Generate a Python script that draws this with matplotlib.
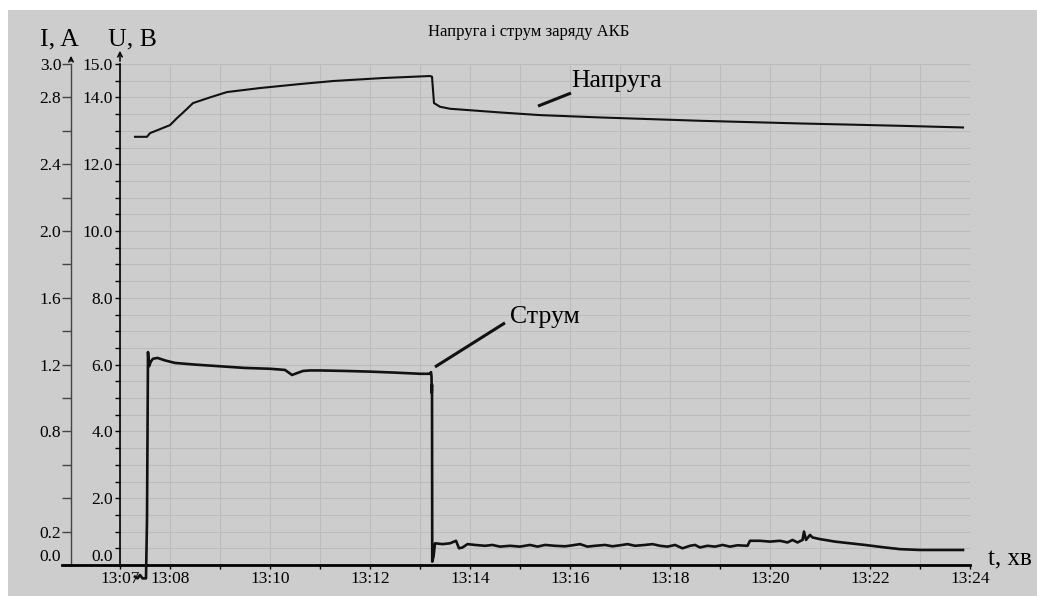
import numpy as np
import matplotlib
matplotlib.use('Agg')
import matplotlib.pyplot as plt
from matplotlib.lines import Line2D
from matplotlib.patches import Rectangle

# ---------------- data (time in minutes after 13:00) ----------------
u_time = [7.30, 7.54, 7.60, 7.80, 8.00, 8.14, 8.30, 8.46, 8.80, 9.14, 9.80,
          10.60, 11.26, 12.26, 13.20, 13.24, 13.28, 13.40, 13.60, 14.60,
          15.40, 16.60, 18.60, 20.60, 22.60, 23.86]
u_volt = [12.82, 12.82, 12.93, 13.05, 13.17, 13.38, 13.60, 13.83, 14.00, 14.16,
          14.28, 14.40, 14.49, 14.58, 14.64, 14.62, 13.83, 13.72, 13.66, 13.55,
          13.47, 13.40, 13.30, 13.22, 13.15, 13.10]

i_time = [7.30, 7.35, 7.40, 7.45, 7.52, 7.54, 7.56, 7.58, 7.62, 7.66, 7.75,
          7.90, 8.10, 8.50, 9.00, 9.50, 10.00, 10.30, 10.44, 10.55, 10.66,
          10.80, 11.00, 11.50, 12.00, 12.50, 13.00, 13.20, 13.22, 13.23,
          13.235, 13.24, 13.245, 13.27, 13.30, 13.45, 13.60, 13.72, 13.78,
          13.85, 13.95, 14.10, 14.30, 14.45, 14.60, 14.80, 15.00, 15.20,
          15.35, 15.50, 15.70, 15.90, 16.05, 16.20, 16.35, 16.50, 16.70,
          16.85, 17.00, 17.15, 17.30, 17.50, 17.65, 17.80, 17.95, 18.10,
          18.25, 18.40, 18.50, 18.60, 18.75, 18.90, 19.05, 19.20, 19.35,
          19.55, 19.60, 19.80, 20.00, 20.20, 20.35, 20.45, 20.55, 20.65,
          20.68, 20.72, 20.80, 20.85, 21.00, 21.30, 21.60, 21.90, 22.30,
          22.60, 23.00, 23.50, 23.86]
i_amp = [-0.07, -0.08, -0.06, -0.08, -0.08, 0.27, 1.275, 1.19, 1.22, 1.235,
         1.24, 1.225, 1.21, 1.20, 1.19, 1.18, 1.175, 1.168, 1.138, 1.15, 1.162,
         1.165, 1.165, 1.162, 1.158, 1.152, 1.145, 1.145, 1.155, 1.13,
         1.03, 1.08, 0.02, 0.05, 0.13, 0.125, 0.13, 0.145, 0.10,
         0.105, 0.125, 0.12, 0.115, 0.12, 0.11, 0.115, 0.11, 0.12,
         0.11, 0.12, 0.115, 0.112, 0.118, 0.125, 0.11, 0.115, 0.12,
         0.112, 0.118, 0.125, 0.115, 0.12, 0.125, 0.115, 0.11, 0.12,
         0.10, 0.115, 0.12, 0.105, 0.115, 0.11, 0.12, 0.11, 0.118,
         0.115, 0.145, 0.145, 0.14, 0.145, 0.135, 0.15, 0.135, 0.15,
         0.20, 0.15, 0.18, 0.165, 0.155, 0.14, 0.13, 0.12, 0.105,
         0.095, 0.09, 0.09, 0.09]

x_ticks = list(range(7, 25))
x_tick_labels = ['13:07', '13:08', '', '13:10', '', '13:12', '', '13:14', '',
                 '13:16', '', '13:18', '', '13:20', '', '13:22', '', '13:24']
u_ticks = list(np.arange(0, 15.01, 0.5))
u_labeled = {0: '0.0', 2: '2.0', 4: '4.0', 6: '6.0', 8: '8.0', 10: '10.0',
             12: '12.0', 14: '14.0', 15: '15.0'}
i_ticks = [round(v, 1) for v in np.arange(0, 3.01, 0.2)]
i_labeled = {0.0: '0.0', 0.2: '0.2', 0.8: '0.8', 1.2: '1.2', 1.6: '1.6',
             2.0: '2.0', 2.4: '2.4', 2.8: '2.8', 3.0: '3.0'}

title = 'Напруга і струм заряду АКБ'

# ---------------- figure ----------------
plt.rcParams['font.family'] = ['Liberation Serif', 'DejaVu Serif']
W, H, DPI = 1037, 596, 100
fig = plt.figure(figsize=(W / DPI, H / DPI), dpi=DPI, facecolor='white')
bg = '#cdcdcd'
fig.patches.append(Rectangle((8 / W, 0), 1 - 8 / W, (H - 10) / H,
                             transform=fig.transFigure, facecolor=bg,
                             edgecolor='none', zorder=-10))

L, R, T, B = 120, 970, 64, 565
rect = [L / W, (H - B) / H, (R - L) / W, (B - T) / H]

TICKFS = 12.5
ax = fig.add_axes(rect)
ax.set_facecolor('none')
ax.set_xlim(7, 24)
ax.set_ylim(0, 15)
ax.set_xticks(x_ticks)
ax.set_xticklabels(x_tick_labels, fontsize=TICKFS)
ax.set_yticks(u_ticks)
ax.set_yticklabels([u_labeled.get(v, '') for v in u_ticks], fontsize=TICKFS)
ax.grid(True, color='#bcbcbc', lw=0.8)
ax.set_axisbelow(True)
for s in ('top', 'right'):
    ax.spines[s].set_visible(False)
ax.spines['left'].set_color('black')
ax.spines['left'].set_linewidth(1.2)
ax.spines['bottom'].set_color('black')
ax.spines['bottom'].set_linewidth(2.0)
ax.tick_params(axis='y', length=3.5, width=1.0, pad=1.5, direction='out')
ax.tick_params(axis='x', length=3.0, width=1.0, pad=1.0, direction='out')
for lab in ax.get_yticklabels():
    if lab.get_text() == '0.0':
        lab.set_va('bottom')

ax.plot(u_time, u_volt, color='#111111', lw=1.5, zorder=5)

# current axis
axi = fig.add_axes(rect)
axi.set_facecolor('none')
axi.set_xlim(7, 24)
axi.set_ylim(0, 3)
for s in ('top', 'right', 'bottom'):
    axi.spines[s].set_visible(False)
axi.spines['left'].set_position(('axes', -49 / 850))
axi.spines['left'].set_color('#444444')
axi.spines['left'].set_linewidth(1.0)
axi.set_xticks([])
axi.set_yticks(i_ticks)
axi.set_yticklabels([i_labeled.get(v, '') for v in i_ticks], fontsize=TICKFS)
axi.tick_params(axis='y', length=6.5, width=1.0, pad=0.5, color='#444444')
for lab in axi.get_yticklabels():
    if lab.get_text() == '0.0':
        lab.set_va('bottom')
axi.plot(i_time, i_amp, color='#111111', lw=1.9, clip_on=False, zorder=5)

# arrows at top of the axes
for xpx, ytop in ((120, 48), (71, 53)):
    fig.add_artist(matplotlib.patches.FancyArrowPatch(
        (xpx / W, (H - 64) / H), (xpx / W, (H - ytop) / H),
        transform=fig.transFigure, arrowstyle='->', mutation_scale=8,
        lw=1.1, color='black'))
# bottom line extension
fig.add_artist(Line2D([62 / W, 120 / W], [(H - B) / H] * 2,
                      transform=fig.transFigure, color='black', lw=2.0))

# labels
fig.text(40 / W, (H - 45) / H, 'I, A', fontsize=18.5, ha='left', va='baseline')
fig.text(108 / W, (H - 45) / H, 'U, B', fontsize=18.5, ha='left', va='baseline')
fig.text(988 / W, (H - 565) / H, 't, хв', fontsize=18, ha='left', va='baseline')
fig.text(529 / W, (H - 36) / H, title, fontsize=12, ha='center', va='baseline')

# annotations
ax.plot([15.36, 16.02], [13.74, 14.13], color='#111111', lw=2.2, solid_capstyle='butt')
ax.text(16.02, 14.31, 'Напруга', fontsize=18.5, ha='left', va='baseline')
ax.plot([13.30, 14.70], [5.93, 7.25], color='#111111', lw=2.2, solid_capstyle='butt')
ax.text(14.80, 7.25, 'Струм', fontsize=18.5, ha='left', va='baseline')

fig.savefig('out.png', dpi=DPI, facecolor='white')
